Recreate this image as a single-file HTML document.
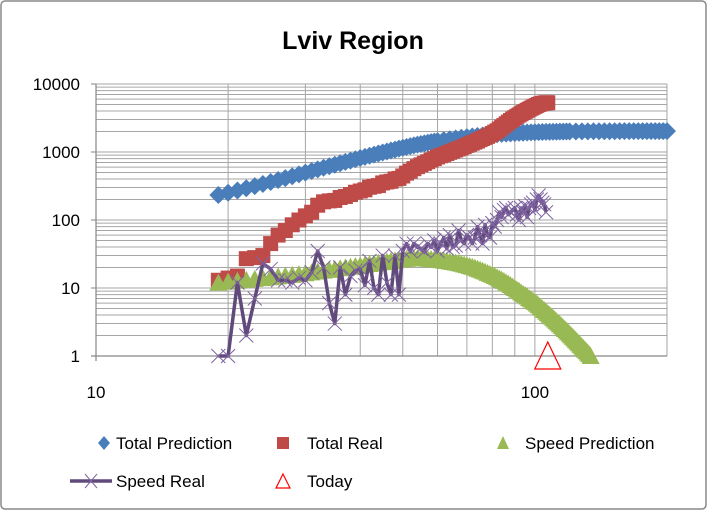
<!DOCTYPE html>
<html><head><meta charset="utf-8"><style>
body{margin:0;background:#fff;font-family:"Liberation Sans",sans-serif}
svg{display:block}
</style></head><body>
<svg id="chart" width="708" height="511" xmlns="http://www.w3.org/2000/svg">
<rect x="1" y="1" width="705" height="508" rx="4" fill="#fff" stroke="#888" stroke-width="1.5"/>
<text x="353" y="49" text-anchor="middle" font-size="25" font-weight="bold" fill="#000">Lviv Region</text>
<g id="grid"></g>
<g id="series"></g>
<g id="legend" font-size="17" fill="#000">
<path d="M104 436 L110 443 L104 450 L98 443Z" fill="#4a7ebb"/>
<text x="116" y="449">Total Prediction</text>
<rect x="277" y="437" width="12" height="12" fill="#be4b48"/>
<text x="307" y="449">Total Real</text>
<path d="M503 436 L509 449 L497 449Z" fill="#98b954"/>
<text x="525" y="449">Speed Prediction</text>
<line x1="70" y1="481" x2="112" y2="481" stroke="#604a7b" stroke-width="3.5"/>
<path d="M85 474 L97 488 M97 474 L85 488" stroke="#8064a2" stroke-width="1"/>
<text x="116" y="487">Speed Real</text>
<path d="M283 474 L290 488 L276 488Z" fill="none" stroke="#f00" stroke-width="1.2"/>
<text x="307" y="487">Today</text>
</g>
</svg>
<script>
const yTicks=[1,10,100,1000,10000];
const yTickLabels=["1","10","100","1000","10000"];
const xTicks=[10,100];
const xTickLabels=["10","100"];
const tpDays=[19,20,21,22,23,24,25,26,27,28,29,30,31,32,33,34,35,36,37,38,39,40,41,42,43,44,45,46,47,48,49,50,51,52,53,54,55,56,57,58,59,60,62,64,66,68,70,72,74,76,78,80,82,84,86,88,90,92,94,96,98,100,102,104,106,108,110,112,114,116,118,120,124,128,132,136,140,144,148,152,156,160,164,168,172,176,180,184,188,192,196,200];
const tpVals=[233,252,272,293,315,338,362,387,413,440,468,497,526,556,587,618,650,682,715,748,781,815,848,882,916,950,984,1018,1052,1086,1120,1153,1186,1218,1250,1281,1311,1340,1368,1395,1421,1446,1494,1538,1580,1619,1656,1690,1722,1751,1778,1803,1825,1846,1864,1881,1896,1910,1922,1933,1943,1952,1960,1967,1973,1979,1984,1988,1992,1996,1999,2002,2006,2010,2013,2016,2018,2020,2022,2023,2024,2025,2026,2027,2028,2029,2029,2030,2030,2030,2030,2030];
const trStart=19;
const trVals=[13,14,15,27,28,30,45,60,70,85,100,115,130,165,185,191,194,214,222,237,256,267,278,303,313,321,351,363,371,401,409,444,489,524,569,609,647,680,720,760,800,845,880,910,950,990,1030,1070,1110,1150,1200,1250,1300,1350,1400,1450,1520,1580,1640,1700,1780,1870,1960,2050,2180,2320,2450,2600,2750,2900,3050,3200,3350,3500,3650,3800,3950,4100,4250,4400,4550,4700,4850,5000,5100,5200,5250,5300,5300];
const spStart=19;
const spVals=[12,12.4,12.8,13.2,13.6,14,14.4,14.8,15.2,15.6,16,16.5,17,17.5,18,18.5,19,19.5,20,20.5,21,21.5,22,22.5,23,23.5,24,24.5,25,25.5,26,26.4,26.8,27.1,27.3,27.5,
27.4,27.2,26.9,26.7,26.4,26.1,25.7,25.4,24.9,24.5,24.1,23.7,23.2,22.7,22.2,21.7,21.1,20.5,19.9,19.2,18.6,18.0,17.4,16.7,16.1,15.6,15.0,14.4,13.8,13.3,12.7,12.1,11.6,11.0,10.5,10.0,9.5,9.1,8.6,8.2,7.9,7.5,7.1,6.8,6.5,6.2,5.9,
5.57,5.28,5.01,4.75,4.50,4.26,4.04,3.83,3.63,3.44,3.26,3.09,2.93,2.78,2.63,2.50,2.37,2.24,2.12,2.01,1.91,1.81,1.71,1.62,1.54,1.46,1.38,1.31,1.24,1.18,1.12,1.06,1.0];
const srStart=19;
const srVals=[1,1,12,2,7,23,19,13,13,12,14,13,17,35,20,6,3,20,8,15,18,19,11,25,10,8,30,12,8,30,8,35,45,35,45,40,38,35,45,40,50,35,45,55,38,60,40,42,70,50,45,60,55,45,55,80,60,45,85,60,55,90,80,100,130,110,140,150,120,130,140,150,120,100,150,130,160,110,150,170,180,140,200,230,200,180,170,130];
const todayDay=[107];
const todayVal=[1];

const NS="http://www.w3.org/2000/svg";
const X0=96,X1=667,Y0=356,Y1=84;
const xLog0=1,xLog1=Math.log10(200),yLog0=0,yLog1=4;
function sx(v){return X0+(Math.log10(v)-xLog0)/(xLog1-xLog0)*(X1-X0);}
function sy(v){return Y0-(Math.log10(v)-yLog0)/(yLog1-yLog0)*(Y0-Y1);}
function mk(tag,attrs,parent){const e=document.createElementNS(NS,tag);for(const k in attrs)e.setAttribute(k,attrs[k]);parent.appendChild(e);return e;}
const grid=document.getElementById('grid'),ser=document.getElementById('series');
for(let d=0;d<4;d++){for(let m=1;m<=10;m++){const v=m*Math.pow(10,d);const y=sy(v);
 const l=mk('line',{x1:X0,x2:X1,y1:y,y2:y,stroke:'#a6a6a6','stroke-width':1},grid);
 
 }}
const vg=[20,30,40,50,60,70,80,90,100,200];
vg.forEach(v=>{const x=sx(v);const l=mk('line',{x1:x,x2:x,y1:Y1,y2:Y0,stroke:'#a6a6a6','stroke-width':1},grid);
 
 });
const ya=mk('line',{x1:X0,x2:X0,y1:Y1,y2:Y0+5,stroke:'#868686','stroke-width':1.2},grid);


const xa=mk('line',{x1:X0-5,x2:X1,y1:Y0,y2:Y0,stroke:'#868686','stroke-width':1.2},grid);


yTicks.forEach((v,i)=>{const y=sy(v);
 const t=mk('line',{x1:X0-5,x2:X0,y1:y,y2:y,stroke:'#868686'},grid);
 
 
 const tx=mk('text',{x:X0-16,y:y+6,'text-anchor':'end','font-size':17,fill:'#000'},grid);tx.textContent=yTickLabels[i];
 
 });
xTicks.forEach((v,i)=>{const x=sx(v);
 const tx=mk('text',{x:x,y:398,'text-anchor':'middle','font-size':17,fill:'#000'},grid);tx.textContent=xTickLabels[i];
 
 });
tpDays.forEach((d,i)=>{const x=sx(d),y=sy(tpVals[i]);
 const p=mk('path',{d:`M${x} ${y-9}L${x+9} ${y}L${x} ${y+9}L${x-9} ${y}Z`,fill:'#4a7ebb'},ser);
 
 });
trVals.forEach((v,i)=>{const x=sx(trStart+i),y=sy(v);
 const p=mk('rect',{x:x-7.5,y:y-7.5,width:15,height:15,fill:'#be4b48'},ser);
 
 });
spVals.forEach((v,i)=>{const x=sx(spStart+i),y=sy(v);
 const p=mk('path',{d:`M${x} ${y-9}L${x+9} ${y+8}L${x-9} ${y+8}Z`,fill:'#98b954'},ser);
 
 });
const pts=srVals.map((v,i)=>sx(srStart+i).toFixed(1)+','+sy(v).toFixed(1)).join(' ');
const pl=mk('polyline',{points:pts,fill:'none',stroke:'#604a7b','stroke-width':3.5,'stroke-linejoin':'round'},ser);


srVals.forEach((v,i)=>{const x=sx(srStart+i),y=sy(v);
 const p=mk('path',{d:`M${x-7} ${y-7}L${x+7} ${y+7}M${x+7} ${y-7}L${x-7} ${y+7}`,stroke:'#8064a2','stroke-width':1},ser);
 
 });
todayDay.forEach((d,i)=>{const x=sx(d),y=sy(todayVal[i]);
 const p=mk('path',{d:`M${x} ${y-14}L${x+13} ${y+13}L${x-13} ${y+13}Z`,fill:'none',stroke:'#f00','stroke-width':1.2},ser);
 
 });
</script>
</body></html>
